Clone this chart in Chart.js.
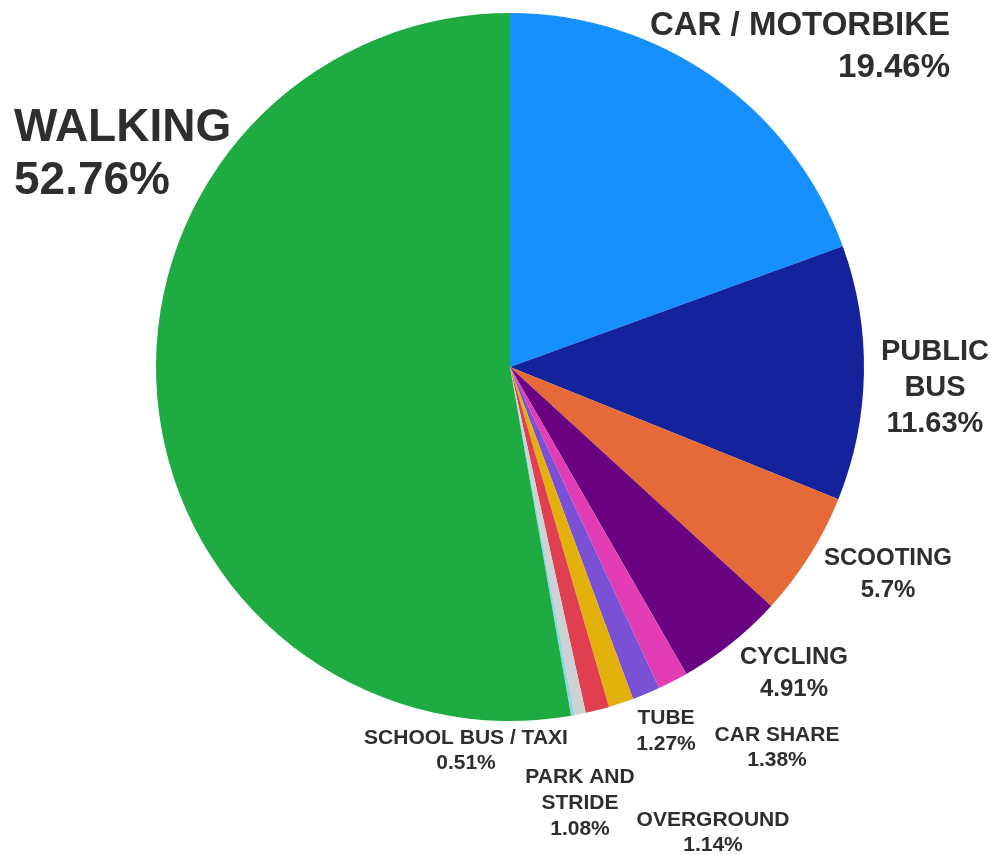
<!DOCTYPE html>
<html>
<head>
<meta charset="utf-8">
<script src="https://cdn.jsdelivr.net/npm/chart.js@4.4.1/dist/chart.umd.min.js"></script>
<style>
  html, body { margin: 0; padding: 0; background: #fff; }
  #wrap { width: 995px; height: 855px; position: relative; }
</style>
</head>
<body>
<div id="wrap"><canvas id="myChart"></canvas></div>
<script>
// data, clockwise from 12 o'clock
var categories = ['CAR / MOTORBIKE', 'PUBLIC BUS', 'SCOOTING', 'CYCLING', 'CAR SHARE', 'TUBE',
                  'OVERGROUND', 'PARK AND STRIDE', 'SCHOOL BUS / TAXI', 'OTHER', 'WALKING'];
var shares = [19.46, 11.63, 5.7, 4.91, 1.38, 1.27, 1.14, 1.08, 0.51, 0.16, 52.76];
var sliceColors = ['#1590fe', '#14239b', '#e56a37', '#6a0381', '#e33db5', '#7a50d4',
                   '#e3b10c', '#df3f4e', '#cfd2d4', '#8fd6e6', '#1dab42'];

// label boxes: lines, font size, x, first baseline, line gap, align
var labelBoxes = [
    { lines: ['WALKING', '52.76%'], size: 46, x: 14, y: 141, gap: 53, align: 'left' },
    { lines: ['CAR / MOTORBIKE', '19.46%'], size: 33, x: 950, y: 35, gap: 42, align: 'right' },
    { lines: ['PUBLIC', 'BUS', '11.63%'], size: 29, x: 935, y: 360, gap: 36, align: 'center' },
    { lines: ['SCOOTING', '5.7%'], size: 24, x: 888, y: 565, gap: 32, align: 'center' },
    { lines: ['CYCLING', '4.91%'], size: 24, x: 794, y: 664, gap: 32, align: 'center' },
    { lines: ['TUBE', '1.27%'], size: 21, x: 666, y: 724, gap: 26, align: 'center' },
    { lines: ['CAR SHARE', '1.38%'], size: 21, x: 777, y: 741, gap: 25, align: 'center' },
    { lines: ['OVERGROUND', '1.14%'], size: 21, x: 713, y: 826, gap: 25, align: 'center' },
    { lines: ['PARK AND', 'STRIDE', '1.08%'], size: 21, x: 580, y: 783, gap: 26, align: 'center' },
    { lines: ['SCHOOL BUS / TAXI', '0.51%'], size: 21, x: 466, y: 744, gap: 25, align: 'center' }
];

var outsideLabels = {
    id: 'outsideLabels',
    afterDraw: function (chart) {
        var ctx = chart.ctx;
        ctx.save();
        ctx.fillStyle = '#2e2e2e';
        labelBoxes.forEach(function (b) {
            ctx.font = 'bold ' + b.size + 'px "Liberation Sans", Arial, sans-serif';
            ctx.textAlign = b.align;
            ctx.textBaseline = 'alphabetic';
            for (var k = 0; k < b.lines.length; k++) {
                ctx.fillText(b.lines[k], b.x, b.y + k * b.gap);
            }
        });
        ctx.restore();
    }
};

var ctx = document.getElementById('myChart');
var myChart = new Chart(ctx, {
    type: 'pie',
    data: {
        labels: categories,
        datasets: [{
            data: shares,
            backgroundColor: sliceColors,
            borderWidth: 0
        }]
    },
    options: {
        responsive: true,
        maintainAspectRatio: false,
        animation: false,
        layout: {
            padding: { left: 156, right: 131, top: 13, bottom: 134 }
        },
        plugins: {
            legend: { display: false },
            tooltip: { enabled: false }
        }
    },
    plugins: [outsideLabels]
});
</script>
</body>
</html>
